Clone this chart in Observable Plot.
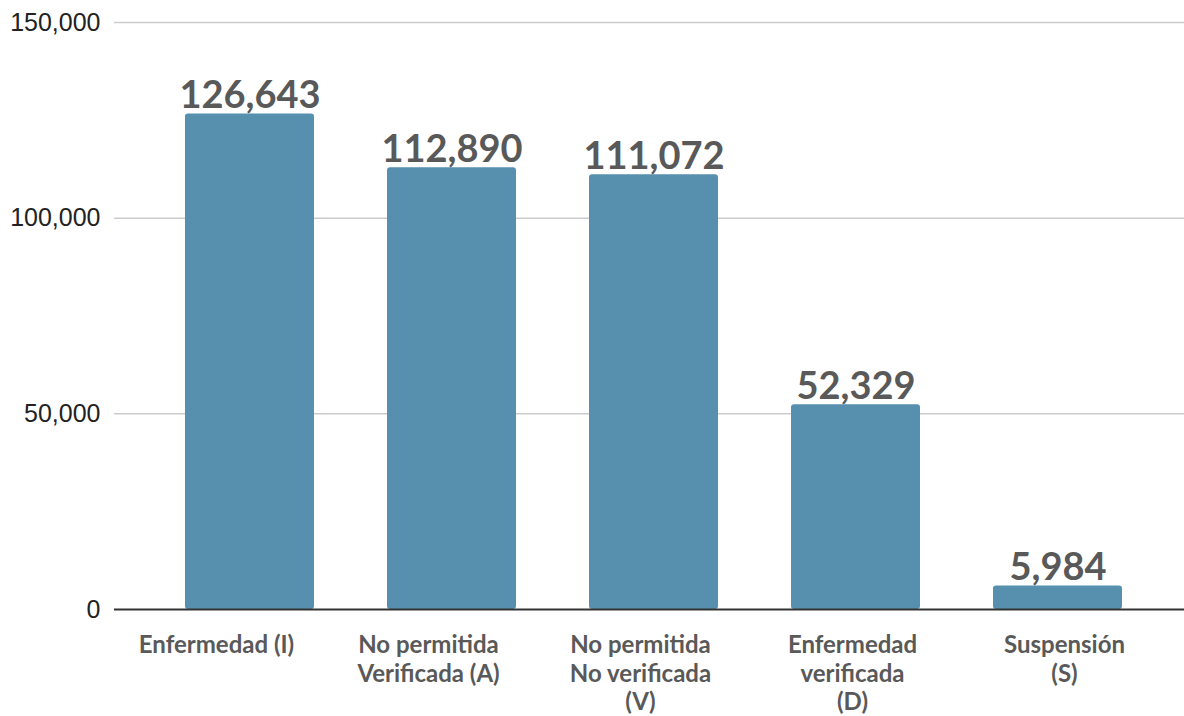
<!DOCTYPE html>
<html>
<head>
<meta charset="utf-8">
<script src="https://cdn.jsdelivr.net/npm/d3@7"></script>
<script src="https://cdn.jsdelivr.net/npm/@observablehq/plot@0.6"></script>
<style>
  html, body { margin: 0; padding: 0; background: #fff; }
  #chart svg { display: block; }
</style>
</head>
<body>
<div id="chart"></div>
<script>
const categories = [
  "Enfermedad (I)",
  "No permitida\nVerificada (A)",
  "No permitida\nNo verificada\n(V)",
  "Enfermedad\nverificada\n(D)",
  "Suspensión\n(S)"
];
const values = [126643, 112890, 111072, 52329, 5984];
const yTicks = [0, 50000, 100000, 150000];

const data = categories.map((c, i) => ({category: c, value: values[i]}));
const fmt = d3.format(",");

// category labels sit on an evenly divided band across the frame
const labelBand = d3.scaleBand(categories, [110, 1170]);

const chart = Plot.plot({
  width: 1184,
  height: 716,
  marginTop: 22,
  marginBottom: 107,
  marginLeft: 114,
  marginRight: 0,
  style: {background: "#fff"},
  x: {domain: categories, range: [112, 1195], padding: 0.36, label: null, axis: null},
  y: {domain: [0, 150000], label: null},
  marks: [
    Plot.ruleY(yTicks.slice(1), {stroke: "#cccccc", strokeWidth: 1.5}),
    Plot.barY(data, {x: "category", y: "value", fill: "#5790ae", rx: 3}),
    Plot.ruleY([0], {stroke: "#333333", strokeWidth: 2}),
    Plot.text(data, {
      x: "category", y: "value", text: d => fmt(d.value),
      dy: -6, lineAnchor: "bottom",
      fontFamily: "Lato", fontWeight: "bold", fontSize: 38, fill: "#595959"
    }),
    Plot.axisY({
      ticks: yTicks, tickFormat: fmt, tickSize: 0, tickPadding: 14,
      fontFamily: "Liberation Sans, Arial, sans-serif", fontSize: 25, fill: "#222",
      label: null
    }),
    Plot.text(data, {
      x: "category", text: "category", frameAnchor: "bottom",
      dy: 24, lineAnchor: "top", lineHeight: 1.17,
      fontFamily: "Lato", fontWeight: "bold", fontSize: 24, fill: "#595959",
      render: (index, scales, values, dimensions, context, next) => {
        const sx = scales.x;
        let bw = 0;
        if (sx && sx.bandwidth != null) bw = typeof sx.bandwidth === "function" ? sx.bandwidth() : sx.bandwidth;
        const x = Float64Array.from(values.x, (_, i) => labelBand(data[i].category) + labelBand.bandwidth() / 2 - bw / 2);
        return next(index, scales, {...values, x}, dimensions, context);
      }
    })
  ]
});
document.getElementById("chart").appendChild(chart);
</script>
</body>
</html>
